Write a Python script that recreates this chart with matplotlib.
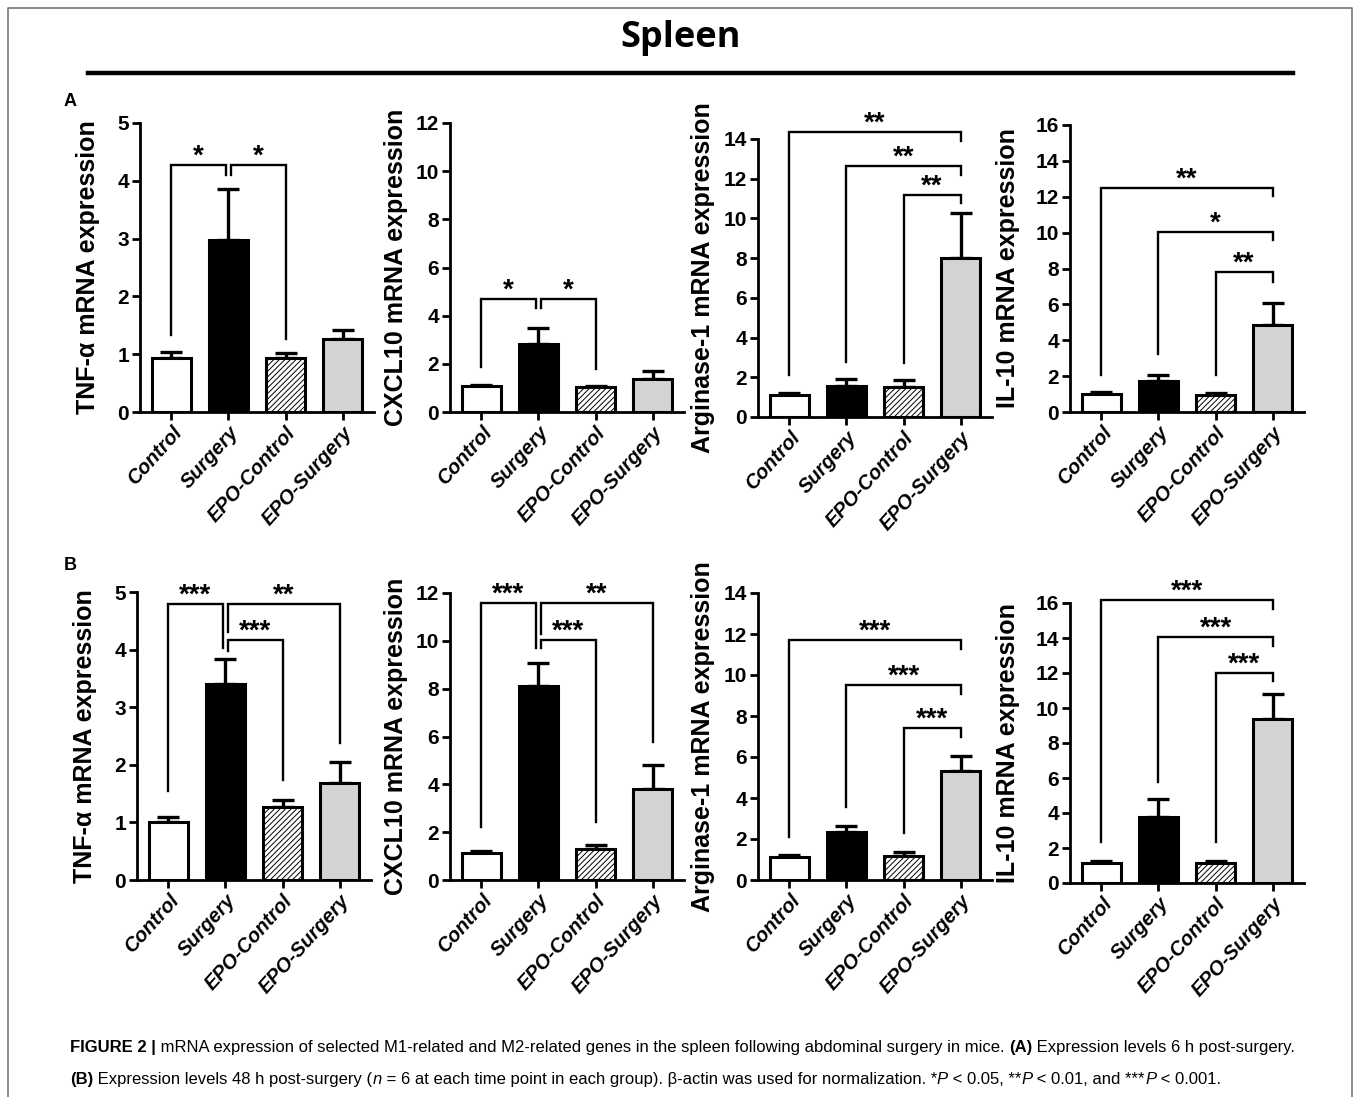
import numpy as np
import matplotlib
matplotlib.use("Agg")
import matplotlib.pyplot as plt
from matplotlib import font_manager
from matplotlib.lines import Line2D

W, H = 1360, 1097

groups = ['Control', 'Surgery', 'EPO-Control', 'EPO-Surgery']

# (A) 6 h post-surgery: means and upper error (SEM)
tnf_6h = [0.93, 2.98, 0.93, 1.27]
tnf_6h_err = [0.11, 0.88, 0.09, 0.15]
cxcl10_6h = [1.07, 2.84, 1.02, 1.35]
cxcl10_6h_err = [0.05, 0.63, 0.08, 0.35]
arg1_6h = [1.09, 1.55, 1.52, 8.0]
arg1_6h_err = [0.1, 0.38, 0.36, 2.25]
il10_6h = [0.99, 1.71, 0.95, 4.84]
il10_6h_err = [0.1, 0.33, 0.12, 1.26]

# (B) 48 h post-surgery
tnf_48h = [1.01, 3.41, 1.26, 1.69]
tnf_48h_err = [0.08, 0.42, 0.13, 0.36]
cxcl10_48h = [1.12, 8.12, 1.28, 3.81]
cxcl10_48h_err = [0.1, 0.95, 0.18, 1.0]
arg1_48h = [1.14, 2.36, 1.17, 5.34]
arg1_48h_err = [0.08, 0.29, 0.18, 0.69]
il10_48h = [1.12, 3.78, 1.14, 9.39]
il10_48h_err = [0.15, 1.0, 0.13, 1.39]

# significance brackets: (x_left, x_right, y_bar, y_left_end, y_right_end, stars)
tnf_6h_sig = [(0, 0.95, 4.27, 1.33, 4.1, '*'), (1.05, 2, 4.27, 4.1, 1.27, '*')]
cxcl10_6h_sig = [(0, 0.95, 4.7, 1.87, 4.3, '*'), (1.05, 2, 4.7, 4.3, 1.8, '*')]
arg1_6h_sig = [(0, 3, 14.36, 2.1, 13.9, '**'), (1, 3, 12.66, 2.78, 12.2, '**'),
               (2, 3, 11.2, 2.7, 10.8, '**')]
il10_6h_sig = [(0, 3, 12.5, 2.05, 12.04, '**'), (1, 3, 10.05, 3.26, 9.58, '*'),
               (2, 3, 7.81, 2.05, 7.26, '**')]
tnf_48h_sig = [(0, 0.95, 4.8, 1.55, 4.02, '***'), (1.05, 3, 4.8, 4.3, 2.37, '**'),
               (1.05, 2, 4.16, 3.97, 1.73, '***')]
cxcl10_48h_sig = [(0, 0.95, 11.58, 2.23, 9.69, '***'), (1.05, 3, 11.58, 10.3, 5.79, '**'),
                  (1.05, 2, 10.04, 9.69, 2.44, '***')]
arg1_48h_sig = [(0, 3, 11.73, 2.12, 11.27, '***'), (1, 3, 9.53, 3.58, 9.09, '***'),
                (2, 3, 7.41, 2.28, 7.0, '***')]
il10_48h_sig = [(0, 3, 16.16, 2.32, 15.67, '***'), (1, 3, 14.07, 5.78, 13.57, '***'),
                (2, 3, 12.02, 2.32, 11.54, '***')]

ylabels = ['TNF-α mRNA expression', 'CXCL10 mRNA expression',
           'Arginase-1 mRNA expression', 'IL-10 mRNA expression']
ymaxes = [5, 12, 14, 16]
ysteps = [1, 2, 2, 2]

installed = {f.name for f in font_manager.fontManager.ttflist}
cap_font = 'Liberation Sans Narrow' if 'Liberation Sans Narrow' in installed else 'Liberation Sans'

plt.rcParams['font.family'] = ['Liberation Sans', 'DejaVu Sans']
plt.rcParams['hatch.linewidth'] = 0.7

fig = plt.figure(figsize=(W / 100, H / 100), dpi=100)

bar_colors = ['white', 'black', 'white', '#d3d3d3']


def panel(left, base, top, means, errs, sig, ylabel, ymax, ystep, lab_dx):
    width = 234
    ax = fig.add_axes([left / W, 1 - base / H, width / W, (base - top) / H])
    x = np.arange(len(groups))
    ax.errorbar(x, means, yerr=[np.zeros(len(errs)), errs], fmt='none', ecolor='k',
                elinewidth=2.4, capsize=8, capthick=2.4, zorder=2)
    bars = ax.bar(x, means, width=0.68, color=bar_colors, edgecolor='k', linewidth=2.2, zorder=3)
    bars[2].set_hatch('//////')
    ax.set_xlim(-0.55, 3.55)
    ax.set_ylim(0, ymax)
    ax.spines[['top', 'right']].set_visible(False)
    ax.spines[['left', 'bottom']].set_linewidth(2)
    ax.tick_params(width=2, length=6, labelsize=15, pad=2)
    ticks = np.arange(0, ymax + ystep / 2, ystep)
    ax.set_yticks(ticks)
    ax.set_yticklabels([f'{t:g}' for t in ticks], fontweight='bold')
    ax.set_xticks(x)
    ax.set_xticklabels(groups, rotation=48, ha='right', rotation_mode='anchor',
                       fontsize=14.5, fontweight='bold', fontstyle='italic')
    ax.set_ylabel(ylabel, fontsize=18, fontweight='bold')
    ax.yaxis.set_label_coords(-lab_dx / width, 0.5)
    for x1, x2, yb, y1e, y2e, stars in sig:
        ax.plot([x1, x1, x2, x2], [y1e, yb, yb, y2e], color='k', lw=1.7,
                clip_on=False, solid_joinstyle='miter')
        ax.annotate(stars, xy=((x1 + x2) / 2, yb), xytext=(0, 1), textcoords='offset points',
                    ha='center', va='baseline', fontsize=20, fontweight='bold',
                    annotation_clip=False)
    return ax


row_a = [(140, 412, 123, tnf_6h, tnf_6h_err, tnf_6h_sig, 40),
         (450, 412, 123, cxcl10_6h, cxcl10_6h_err, cxcl10_6h_sig, 42),
         (758, 417, 139, arg1_6h, arg1_6h_err, arg1_6h_sig, 43),
         (1070, 412, 125, il10_6h, il10_6h_err, il10_6h_sig, 50)]
row_b = [(137, 880, 592, tnf_48h, tnf_48h_err, tnf_48h_sig, 40),
         (450, 880, 593, cxcl10_48h, cxcl10_48h_err, cxcl10_48h_sig, 42),
         (758, 880, 593, arg1_48h, arg1_48h_err, arg1_48h_sig, 43),
         (1070, 883, 603, il10_48h, il10_48h_err, il10_48h_sig, 50)]

for row in (row_a, row_b):
    for i, (l, b, t, m, e, s, dx) in enumerate(row):
        panel(l, b, t, m, e, s, ylabels[i], ymaxes[i], ysteps[i], dx)

# title and rule
fig.text(681 / W, 1 - 38 / H, 'Spleen', ha='center', va='center', fontsize=26,
         fontweight='bold', family=['Open Sans', 'DejaVu Sans'])
fig.add_artist(Line2D([88 / W, 1293 / W], [1 - 73 / H, 1 - 73 / H], color='k', lw=3.2))

# panel letters
fig.text(70 / W, 1 - 102 / H, 'A', ha='center', va='center', fontsize=13, fontweight='bold')
fig.text(70 / W, 1 - 566 / H, 'B', ha='center', va='center', fontsize=13, fontweight='bold')

# frame around the figure
fig.add_artist(Line2D([8 / W, 8 / W, 1352 / W, 1352 / W], [0, 1 - 8 / H, 1 - 8 / H, 0],
                      color='#777777', lw=1.2))

# caption
line1 = [('FIGURE 2 |', 'bold', 'normal'),
         (' mRNA expression of selected M1-related and M2-related genes in the spleen '
          'following abdominal surgery in mice. ', 'normal', 'normal'),
         ('(A)', 'bold', 'normal'),
         (' Expression levels 6 h post-surgery.', 'normal', 'normal')]
line2 = [('(B)', 'bold', 'normal'),
         (' Expression levels 48 h post-surgery (', 'normal', 'normal'),
         ('n', 'normal', 'italic'),
         (' = 6 at each time point in each group). β-actin was used for normalization. *',
          'normal', 'normal'),
         ('P', 'normal', 'italic'), (' < 0.05, **', 'normal', 'normal'),
         ('P', 'normal', 'italic'), (' < 0.01, and ***', 'normal', 'normal'),
         ('P', 'normal', 'italic'), (' < 0.001.', 'normal', 'normal')]

renderer = fig.canvas.get_renderer()


def seg_width(txt, size, weight, style):
    prop = font_manager.FontProperties(family=[cap_font, 'DejaVu Sans'], size=size,
                                       weight=weight, style=style)
    w1 = renderer.get_text_width_height_descent('X' + txt + 'X', prop, ismath=False)[0]
    w0 = renderer.get_text_width_height_descent('XX', prop, ismath=False)[0]
    return w1 - w0


def line_width(segs, size):
    return sum(seg_width(t, size, wt, st) for t, wt, st in segs)


cap_size = 12 * (1222 / line_width(line1, 12))


def draw_line(segs, x0, ybase, size):
    x = x0
    for txt, wt, st in segs:
        fig.text(x / W, 1 - ybase / H, txt, fontsize=size, fontweight=wt, fontstyle=st,
                 family=[cap_font, 'DejaVu Sans'], va='baseline', ha='left')
        x += seg_width(txt, size, wt, st)


draw_line(line1, 70, 1052, cap_size)
draw_line(line2, 70, 1084, cap_size)

fig.savefig('out.png', dpi=100)
